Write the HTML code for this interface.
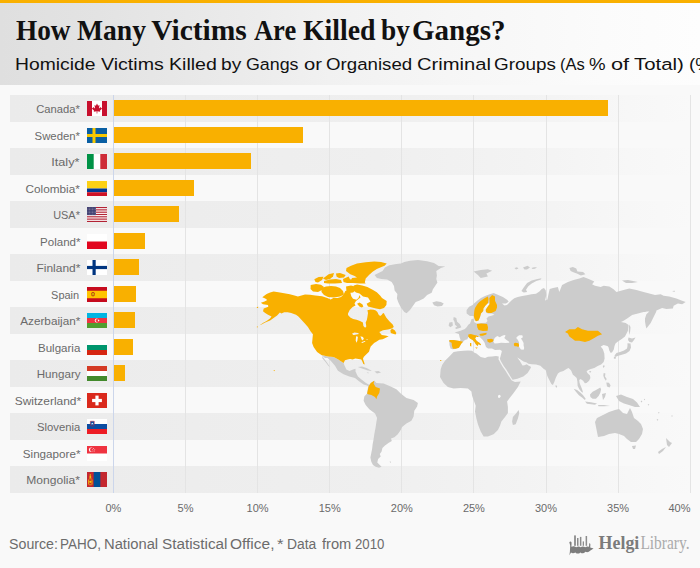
<!DOCTYPE html>
<html><head><meta charset="utf-8"><style>
*{margin:0;padding:0;box-sizing:border-box}
html,body{width:700px;height:568px;overflow:hidden;background:#f9f9f9;font-family:"Liberation Sans",sans-serif}
#top{position:absolute;left:0;top:0;width:700px;height:3px;background:#f9b000}
#hdr{position:absolute;left:0;top:3px;width:700px;height:82px;background:linear-gradient(to right,#dfdfdf 0%,#e3e3e3 14%,#ececec 37%,#f1f1f1 47%,#f6f6f6 64%,#fbfbfb 86%,#fdfdfd 100%)}
.tw{position:absolute;top:14px;font-family:"Liberation Serif",serif;font-weight:bold;font-size:29.5px;color:#111;white-space:nowrap;transform-origin:0 0}
.sw{position:absolute;top:54px;font-size:17.4px;color:#111;white-space:nowrap;transform-origin:0 0}
.band{position:absolute;left:10px;width:680px;height:26.5px;background:linear-gradient(to right,#ebebeb 0%,#efefef 54%,#f3f3f3 76%,#f7f7f7 91%,#f9f9f9 100%)}
.grid{position:absolute;top:95.0px;height:397.5px;width:1px;background:#e4e4e4}
.axis{position:absolute;top:95.0px;height:397.5px;width:1px;background:#ccd6eb}
.lbl{position:absolute;width:60px;text-align:right;font-size:11px;color:#6a6a6a;white-space:nowrap;line-height:13px}
.lbl span{display:inline-block;transform-origin:right center}
.flag{position:absolute;left:87px}
.bar{position:absolute;left:113.70px;height:16px;background:#f9b000}
.xl{position:absolute;top:502.2px;width:40px;text-align:center;font-size:11px;color:#6a6a6a;line-height:13px}
.srw{position:absolute;top:535.5px;font-size:14px;color:#6c6c6c;white-space:nowrap;transform-origin:0 0}
#map{position:absolute;left:0;top:0}
</style></head><body>
<div id="top"></div>
<div id="hdr"></div>
<span class="tw" style="left:15.50px;transform:scaleX(0.924)">How</span><span class="tw" style="left:77.00px;transform:scaleX(0.936)">Many</span><span class="tw" style="left:151.25px;transform:scaleX(1.000)">Victims</span><span class="tw" style="left:253.75px;transform:scaleX(0.897)">Are</span><span class="tw" style="left:302.50px;transform:scaleX(0.942)">Killed</span><span class="tw" style="left:381.25px;transform:scaleX(0.927)">by</span><span class="tw" style="left:411.52px;transform:scaleX(0.984)">Gangs?</span>
<span class="sw" style="left:15.14px;transform:scaleX(1.109)">Homicide</span><span class="sw" style="left:100.50px;transform:scaleX(1.127)">Victims</span><span class="sw" style="left:168.88px;transform:scaleX(1.125)">Killed</span><span class="sw" style="left:221.40px;transform:scaleX(1.103)">by</span><span class="sw" style="left:246.47px;transform:scaleX(1.025)">Gangs</span><span class="sw" style="left:303.84px;transform:scaleX(1.161)">or</span><span class="sw" style="left:326.43px;transform:scaleX(1.074)">Organised</span><span class="sw" style="left:416.84px;transform:scaleX(1.161)">Criminal</span><span class="sw" style="left:494.42px;transform:scaleX(1.085)">Groups</span><span class="sw" style="left:560.30px;transform:scaleX(0.950)">(As</span><span class="sw" style="left:588.93px;transform:scaleX(1.071)">%</span><span class="sw" style="left:611.25px;transform:scaleX(1.250)">of</span><span class="sw" style="left:633.75px;transform:scaleX(1.173)">Total)</span><span class="sw" style="left:688.71px;transform:scaleX(1.088)">(%)</span>
<div class="band" style="top:95.00px"></div>
<div class="band" style="top:148.00px"></div>
<div class="band" style="top:201.00px"></div>
<div class="band" style="top:254.00px"></div>
<div class="band" style="top:307.00px"></div>
<div class="band" style="top:360.00px"></div>
<div class="band" style="top:413.00px"></div>
<div class="band" style="top:466.00px"></div>
<div class="grid" style="left:185.00px"></div>
<div class="grid" style="left:257.10px"></div>
<div class="grid" style="left:329.20px"></div>
<div class="grid" style="left:401.30px"></div>
<div class="grid" style="left:473.40px"></div>
<div class="grid" style="left:545.50px"></div>
<div class="grid" style="left:617.60px"></div>
<div class="grid" style="left:689.70px"></div>
<div class="axis" style="left:112.90px"></div>
<div class="lbl" style="top:103.00px;left:19.40px"><span style="transform:scaleX(1.019)">Canada*</span></div>
<svg class="flag" style="top:101.00px" width="20" height="15" viewBox="0 0 20 15"><rect width="20" height="15" fill="#fff"/><rect width="5" height="15" fill="#c8102e"/><rect x="15" width="5" height="15" fill="#c8102e"/><path d="M10 2.6 L11.1 4.8 L12.5 4.1 L12 7.4 L13.9 5.9 L14.2 7.1 L15.2 7.4 L12.9 9.7 L13.3 10.7 L10.35 10.3 L10.35 12.6 L9.65 12.6 L9.65 10.3 L6.7 10.7 L7.1 9.7 L4.8 7.4 L5.8 7.1 L6.1 5.9 L8 7.4 L7.5 4.1 L8.9 4.8 Z" fill="#c8102e"/></svg>
<div class="bar" style="top:100.00px;width:494.50px"></div>
<div class="lbl" style="top:129.50px;left:20.20px"><span style="transform:scaleX(1.032)">Sweden*</span></div>
<svg class="flag" style="top:127.50px" width="20" height="15" viewBox="0 0 20 15"><rect width="20" height="15" fill="#0a5fa3"/><rect x="5.5" width="3" height="15" fill="#f7c800"/><rect y="6" width="20" height="3" fill="#f7c800"/></svg>
<div class="bar" style="top:126.50px;width:189.70px"></div>
<div class="lbl" style="top:156.00px;left:19.80px"><span style="transform:scaleX(1.155)">Italy*</span></div>
<svg class="flag" style="top:154.00px" width="20" height="15" viewBox="0 0 20 15"><rect width="20" height="15" fill="#fff"/><rect width="6.7" height="15" fill="#009246"/><rect x="13.3" width="6.7" height="15" fill="#ce2b37"/></svg>
<div class="bar" style="top:153.00px;width:137.50px"></div>
<div class="lbl" style="top:182.50px;left:19.80px"><span style="transform:scaleX(1.069)">Colombia*</span></div>
<svg class="flag" style="top:180.50px" width="20" height="15" viewBox="0 0 20 15"><rect width="20" height="7.5" fill="#fcd116"/><rect y="7.5" width="20" height="3.75" fill="#003893"/><rect y="11.25" width="20" height="3.75" fill="#ce1126"/></svg>
<div class="bar" style="top:179.50px;width:80.30px"></div>
<div class="lbl" style="top:209.00px;left:20.20px"><span style="transform:scaleX(0.993)">USA*</span></div>
<svg class="flag" style="top:207.00px" width="20" height="15" viewBox="0 0 20 15"><rect width="20" height="15" fill="#fff"/><rect y="0.00" width="20" height="1.15" fill="#b22234"/><rect y="2.31" width="20" height="1.15" fill="#b22234"/><rect y="4.62" width="20" height="1.15" fill="#b22234"/><rect y="6.92" width="20" height="1.15" fill="#b22234"/><rect y="9.23" width="20" height="1.15" fill="#b22234"/><rect y="11.54" width="20" height="1.15" fill="#b22234"/><rect y="13.85" width="20" height="1.15" fill="#b22234"/><rect width="9" height="8.1" fill="#3c3b6e"/><circle cx="1.0" cy="1.0" r="0.35" fill="#fff"/><circle cx="1.0" cy="2.5" r="0.35" fill="#fff"/><circle cx="1.0" cy="4.0" r="0.35" fill="#fff"/><circle cx="1.0" cy="5.5" r="0.35" fill="#fff"/><circle cx="1.0" cy="7.0" r="0.35" fill="#fff"/><circle cx="2.5" cy="1.0" r="0.35" fill="#fff"/><circle cx="2.5" cy="2.5" r="0.35" fill="#fff"/><circle cx="2.5" cy="4.0" r="0.35" fill="#fff"/><circle cx="2.5" cy="5.5" r="0.35" fill="#fff"/><circle cx="2.5" cy="7.0" r="0.35" fill="#fff"/><circle cx="4.0" cy="1.0" r="0.35" fill="#fff"/><circle cx="4.0" cy="2.5" r="0.35" fill="#fff"/><circle cx="4.0" cy="4.0" r="0.35" fill="#fff"/><circle cx="4.0" cy="5.5" r="0.35" fill="#fff"/><circle cx="4.0" cy="7.0" r="0.35" fill="#fff"/><circle cx="5.5" cy="1.0" r="0.35" fill="#fff"/><circle cx="5.5" cy="2.5" r="0.35" fill="#fff"/><circle cx="5.5" cy="4.0" r="0.35" fill="#fff"/><circle cx="5.5" cy="5.5" r="0.35" fill="#fff"/><circle cx="5.5" cy="7.0" r="0.35" fill="#fff"/><circle cx="7.0" cy="1.0" r="0.35" fill="#fff"/><circle cx="7.0" cy="2.5" r="0.35" fill="#fff"/><circle cx="7.0" cy="4.0" r="0.35" fill="#fff"/><circle cx="7.0" cy="5.5" r="0.35" fill="#fff"/><circle cx="7.0" cy="7.0" r="0.35" fill="#fff"/><circle cx="8.5" cy="1.0" r="0.35" fill="#fff"/><circle cx="8.5" cy="2.5" r="0.35" fill="#fff"/><circle cx="8.5" cy="4.0" r="0.35" fill="#fff"/><circle cx="8.5" cy="5.5" r="0.35" fill="#fff"/><circle cx="8.5" cy="7.0" r="0.35" fill="#fff"/></svg>
<div class="bar" style="top:206.00px;width:65.50px"></div>
<div class="lbl" style="top:235.50px;left:20.20px"><span style="transform:scaleX(1.049)">Poland*</span></div>
<svg class="flag" style="top:233.50px" width="20" height="15" viewBox="0 0 20 15"><rect width="20" height="15" fill="#fff"/><rect y="7.5" width="20" height="7.5" fill="#e2061f"/></svg>
<div class="bar" style="top:232.50px;width:31.60px"></div>
<div class="lbl" style="top:262.00px;left:20.20px"><span style="transform:scaleX(1.087)">Finland*</span></div>
<svg class="flag" style="top:260.00px" width="20" height="15" viewBox="0 0 20 15"><rect width="20" height="15" fill="#fff"/><rect x="5.5" width="3.2" height="15" fill="#003580"/><rect y="5.9" width="20" height="3.2" fill="#003580"/></svg>
<div class="bar" style="top:259.00px;width:25.60px"></div>
<div class="lbl" style="top:288.50px;left:19.50px"><span style="transform:scaleX(0.996)">Spain</span></div>
<svg class="flag" style="top:286.50px" width="20" height="15" viewBox="0 0 20 15"><rect width="20" height="15" fill="#c60b1e"/><rect y="3.75" width="20" height="7.5" fill="#ffc400"/><rect x="4.5" y="5.2" width="3" height="4" rx="1" fill="#ad1519"/><rect x="5" y="6" width="2" height="2.5" fill="#c8b100"/></svg>
<div class="bar" style="top:285.50px;width:22.60px"></div>
<div class="lbl" style="top:315.00px;left:20.20px"><span style="transform:scaleX(1.067)">Azerbaijan*</span></div>
<svg class="flag" style="top:313.00px" width="20" height="15" viewBox="0 0 20 15"><rect width="20" height="5" fill="#00b5e2"/><rect y="5" width="20" height="5" fill="#ef3340"/><rect y="10" width="20" height="5" fill="#509e2f"/><circle cx="9.7" cy="7.5" r="1.9" fill="#fff"/><circle cx="10.2" cy="7.5" r="1.55" fill="#ef3340"/><circle cx="11.6" cy="7.5" r="0.7" fill="#fff"/></svg>
<div class="bar" style="top:312.00px;width:21.80px"></div>
<div class="lbl" style="top:341.50px;left:20.20px"><span style="transform:scaleX(1.050)">Bulgaria</span></div>
<svg class="flag" style="top:339.50px" width="20" height="15" viewBox="0 0 20 15"><rect width="20" height="5" fill="#fff"/><rect y="5" width="20" height="5" fill="#00966e"/><rect y="10" width="20" height="5" fill="#d62612"/></svg>
<div class="bar" style="top:338.50px;width:19.40px"></div>
<div class="lbl" style="top:368.00px;left:20.20px"><span style="transform:scaleX(1.055)">Hungary</span></div>
<svg class="flag" style="top:366.00px" width="20" height="15" viewBox="0 0 20 15"><rect width="20" height="5" fill="#d43a24"/><rect y="5" width="20" height="5" fill="#fff"/><rect y="10" width="20" height="5" fill="#438a2c"/></svg>
<div class="bar" style="top:365.00px;width:11.60px"></div>
<div class="lbl" style="top:394.50px;left:20.20px"><span style="transform:scaleX(1.087)">Switzerland*</span></div>
<svg class="flag" style="top:392.50px" width="20" height="15" viewBox="0 0 20 15"><rect width="20" height="15" fill="#da291c"/><rect x="8.4" y="2.6" width="3.2" height="9.8" fill="#fff"/><rect x="5.1" y="5.9" width="9.8" height="3.2" fill="#fff"/></svg>
<div class="lbl" style="top:421.00px;left:19.80px"><span style="transform:scaleX(1.024)">Slovenia</span></div>
<svg class="flag" style="top:419.00px" width="20" height="15" viewBox="0 0 20 15"><rect width="20" height="5" fill="#fff"/><rect y="5" width="20" height="5" fill="#0c4da2"/><rect y="10" width="20" height="5" fill="#ed1c24"/><path d="M3.3 2.2 h4 v4.2 q-2 1.6 -4 0 z" fill="#0c4da2" stroke="#ed1c24" stroke-width="0.4"/><path d="M4 5.3 l1.3 -1.6 l1.3 1.6 z" fill="#fff"/></svg>
<div class="lbl" style="top:447.50px;left:20.20px"><span style="transform:scaleX(1.059)">Singapore*</span></div>
<svg class="flag" style="top:445.50px" width="20" height="15" viewBox="0 0 20 15"><rect width="20" height="15" fill="#fff"/><rect width="20" height="7.5" fill="#ef3340"/><circle cx="4.2" cy="3.8" r="2.3" fill="#fff"/><circle cx="5.1" cy="3.8" r="2.1" fill="#ef3340"/><circle cx="6.6" cy="2.5" r="0.45" fill="#fff"/><circle cx="5.5" cy="3.6" r="0.45" fill="#fff"/><circle cx="7.8" cy="3.6" r="0.45" fill="#fff"/><circle cx="6" cy="5" r="0.45" fill="#fff"/><circle cx="7.3" cy="5" r="0.45" fill="#fff"/></svg>
<div class="lbl" style="top:474.00px;left:20.20px"><span style="transform:scaleX(1.096)">Mongolia*</span></div>
<svg class="flag" style="top:472.00px" width="20" height="15" viewBox="0 0 20 15"><rect width="20" height="15" fill="#c4272f"/><rect x="6.67" width="6.67" height="15" fill="#015197"/><g fill="#f9cf02"><circle cx="3.33" cy="3" r="0.8"/><circle cx="3.33" cy="5" r="1"/><rect x="2.1" y="6.5" width="2.5" height="0.7"/><rect x="1.3" y="7.5" width="0.8" height="5"/><rect x="4.6" y="7.5" width="0.8" height="5"/><circle cx="3.33" cy="9.8" r="1.1"/><rect x="2.1" y="12.5" width="2.5" height="0.7"/></g></svg>
<div class="xl" style="left:93.40px">0%</div>
<div class="xl" style="left:165.50px">5%</div>
<div class="xl" style="left:237.60px">10%</div>
<div class="xl" style="left:309.70px">15%</div>
<div class="xl" style="left:381.80px">20%</div>
<div class="xl" style="left:453.90px">25%</div>
<div class="xl" style="left:526.00px">30%</div>
<div class="xl" style="left:598.10px">35%</div>
<div class="xl" style="left:650.50px;text-align:right">40%</div>
<svg id="map" width="700" height="568" viewBox="0 0 700 568" style="position:absolute;left:0;top:0">
<path d="M404.3 261.9 L410.0 260.7 L418.0 260.1 L427.1 261.3 L434.0 263.0 L438.6 265.9 L445.4 266.4 L440.9 268.1 L436.3 271.0 L436.9 275.6 L436.3 279.0 L437.4 282.4 L435.1 285.9 L432.9 289.3 L431.7 292.7 L427.1 295.0 L423.7 298.4 L419.1 300.7 L415.7 301.9 L413.4 305.3 L410.0 309.9 L406.6 313.3 L404.3 312.1 L400.9 307.6 L398.6 303.0 L396.9 298.4 L397.4 293.9 L394.6 290.4 L394.0 285.9 L391.7 281.9 L387.1 279.6 L381.4 279.0 L376.9 277.9 L374.6 275.0 L378.0 273.3 L382.6 271.0 L384.9 267.6 L389.4 265.3 L396.3 264.1 L400.9 263.6 Z" fill="#cccccc" fill-rule="evenodd"/>
<path d="M432.3 302.4 L436.3 301.3 L440.9 301.9 L443.7 303.6 L442.0 305.9 L437.4 306.4 L434.0 305.3 Z" fill="#cccccc" fill-rule="evenodd"/>
<path d="M321.4 355.0 L327.9 356.4 L333.6 357.1 L337.9 359.3 L340.5 361.0 L343.6 362.9 L344.5 365.5 L346.4 369.5 L349.5 371.0 L353.0 369.6 L355.5 368.8 L355.5 371.5 L357.9 376.5 L362.1 380.0 L366.0 383.0 L369.5 385.0 L371.5 386.5 L369.0 387.0 L367.1 385.5 L363.6 384.5 L359.3 381.5 L355.0 378.0 L349.3 376.4 L343.6 374.3 L337.9 370.7 L335.0 365.7 L330.5 360.5 L327.5 358.0 L325.0 358.0 Z" fill="#cccccc" fill-rule="evenodd"/>
<path d="M322.1 355.7 L324.0 358.5 L327.0 362.5 L330.0 367.1 L328.5 366.0 L325.5 362.0 L322.5 358.5 Z" fill="#cccccc" fill-rule="evenodd"/>
<path d="M357.9 367.1 L362.0 366.5 L366.5 368.0 L372.1 371.0 L368.0 370.5 L362.0 368.5 Z" fill="#cccccc" fill-rule="evenodd"/>
<path d="M374.5 371.5 L378.5 371.0 L381.0 372.5 L377.0 373.5 Z" fill="#cccccc" fill-rule="evenodd"/>
<path d="M366.5 372.6 L368.6 372.4 L368.4 373.5 Z" fill="#cccccc" fill-rule="evenodd"/>
<path d="M364.3 396.4 L367.1 393.6 L367.9 388.0 L369.5 384.5 L372.5 381.8 L374.3 380.7 L376.4 382.9 L383.6 383.6 L390.7 386.4 L396.4 389.3 L400.7 393.6 L406.4 397.9 L413.6 400.0 L417.9 402.9 L417.1 406.4 L414.3 410.7 L413.6 416.4 L411.4 420.7 L406.4 423.6 L402.1 427.1 L400.7 430.0 L397.8 434.3 L394.4 437.3 L391.0 438.6 L391.8 441.1 L388.4 442.9 L385.0 445.4 L382.4 448.0 L381.6 451.4 L379.8 454.0 L380.7 456.6 L378.1 459.1 L377.3 462.6 L379.0 464.3 L381.6 466.8 L379.0 467.7 L375.6 466.8 L373.0 465.1 L371.3 461.7 L370.4 457.4 L371.3 453.1 L372.1 448.9 L372.6 444.6 L373.4 440.3 L374.3 434.3 L375.5 428.0 L376.4 422.0 L377.1 417.9 L375.0 413.6 L369.3 409.3 L365.7 405.0 L363.6 400.7 Z" fill="#cccccc" fill-rule="evenodd"/>
<path d="M389.5 461.8 L391.0 461.6 L390.8 462.9 Z" fill="#cccccc" fill-rule="evenodd"/>
<path d="M455.4 349.0 L452.5 349.2 L450.5 348.5 L449.5 345.0 L449.3 341.5 L449.4 340.1 L453.7 340.1 L459.7 341.0 L460.6 340.1 L459.7 337.6 L458.9 334.1 L454.6 332.4 L458.0 331.6 L460.6 330.7 L464.9 329.0 L466.6 327.3 L468.3 324.7 L470.0 323.5 L471.0 321.0 L471.5 319.0 L473.5 318.7 L474.3 320.5 L474.0 322.1 L476.5 323.5 L478.5 323.5 L482.0 323.0 L486.0 322.8 L487.5 321.0 L486.5 318.5 L488.5 316.5 L491.5 315.8 L494.5 314.8 L492.0 313.6 L488.0 313.6 L486.0 312.5 L485.7 309.7 L487.8 306.5 L489.7 304.0 L488.0 302.9 L485.5 305.5 L483.4 308.6 L483.2 311.0 L481.0 313.5 L480.0 317.0 L478.5 320.5 L476.0 321.3 L474.7 319.6 L473.8 316.1 L470.0 316.1 L466.6 313.6 L466.6 310.1 L469.1 306.7 L472.6 305.0 L474.0 303.5 L477.5 300.5 L481.0 298.0 L485.0 296.0 L489.0 294.5 L493.7 293.1 L498.3 294.9 L502.9 297.1 L507.4 300.0 L508.6 301.7 L506.0 303.5 L502.0 303.5 L504.5 305.5 L507.0 305.0 L509.7 302.3 L512.0 300.0 L514.3 298.3 L517.7 297.1 L522.3 296.0 L528.0 294.9 L531.4 294.3 L536.0 293.7 L539.4 291.4 L541.7 289.1 L544.0 288.0 L545.7 290.3 L546.3 294.9 L545.1 300.6 L547.4 299.4 L548.6 293.7 L549.7 289.1 L553.1 288.0 L557.9 287.1 L559.3 292.1 L562.1 285.0 L567.9 282.1 L573.6 280.0 L579.3 278.6 L583.6 277.1 L589.3 279.3 L594.3 281.4 L592.1 284.3 L595.0 285.7 L600.7 287.1 L603.6 285.7 L609.3 286.4 L613.6 289.3 L616.4 292.1 L623.6 290.0 L629.3 288.6 L636.4 290.0 L643.6 292.1 L649.3 293.6 L655.0 295.0 L660.7 294.3 L663.6 295.7 L669.3 296.4 L676.4 298.6 L682.1 300.7 L685.7 302.1 L682.1 304.3 L677.9 303.6 L673.6 305.7 L672.9 308.6 L666.4 309.0 L662.1 307.9 L656.4 310.5 L656.2 311.8 L653.6 317.1 L650.7 322.9 L646.4 328.6 L645.7 325.7 L645.0 321.4 L645.0 318.6 L646.4 314.3 L649.3 311.6 L647.0 311.6 L645.0 312.0 L643.6 312.1 L637.9 313.6 L632.1 315.0 L627.9 317.9 L623.6 320.7 L621.0 322.1 L625.7 322.9 L628.6 325.0 L627.9 330.7 L625.0 336.4 L621.4 339.3 L617.9 341.4 L615.5 343.5 L614.5 346.0 L613.8 349.5 L612.0 352.5 L610.5 352.8 L609.3 350.5 L608.6 347.5 L607.8 346.2 L606.4 345.7 L603.6 345.0 L600.7 346.4 L602.9 349.3 L604.3 353.6 L604.6 358.4 L603.7 361.9 L601.1 364.4 L597.7 366.1 L594.3 367.9 L590.8 369.1 L588.3 370.0 L586.6 371.3 L587.4 373.0 L590.0 375.6 L590.4 378.1 L589.1 380.7 L586.6 382.9 L584.9 383.3 L583.1 380.7 L580.6 379.0 L579.2 380.0 L579.6 383.0 L580.8 386.0 L582.2 389.5 L583.1 392.7 L581.4 391.8 L579.3 389.3 L577.6 385.8 L577.4 381.6 L576.7 378.1 L574.6 376.0 L572.9 374.7 L571.1 370.4 L568.6 367.9 L566.9 368.7 L563.4 370.9 L560.0 372.1 L557.9 373.6 L555.7 377.9 L554.3 382.1 L552.9 385.0 L551.4 384.0 L549.8 381.1 L547.3 376.0 L546.4 372.6 L545.6 370.0 L543.8 369.1 L540.4 365.7 L536.1 364.4 L531.8 364.2 L528.4 363.8 L526.7 362.5 L523.5 361.5 L520.5 359.5 L517.3 357.6 L519.5 360.5 L521.0 363.0 L522.5 365.5 L524.5 365.2 L526.7 364.3 L528.4 365.5 L530.5 366.5 L531.0 367.6 L530.1 369.1 L527.6 373.0 L523.3 376.5 L517.3 378.8 L512.6 379.8 L510.9 377.2 L508.9 373.8 L506.3 369.6 L503.9 366.2 L501.4 362.0 L499.8 358.8 L500.5 356.5 L501.0 354.6 L501.9 351.0 L500.0 349.8 L495.0 350.0 L492.0 348.5 L490.0 348.5 L488.0 348.5 L486.0 347.0 L485.4 345.3 L484.6 342.7 L482.8 340.1 L480.3 337.6 L477.7 335.8 L476.0 337.1 L475.1 338.4 L476.8 341.0 L479.4 342.7 L481.1 344.4 L480.3 345.3 L478.6 344.0 L477.7 346.1 L476.0 344.4 L474.3 341.8 L472.6 340.1 L470.0 338.4 L468.3 336.7 L467.4 339.3 L464.9 340.1 L463.1 341.8 L461.4 343.6 L460.1 345.7 L458.9 347.8 Z M494.6 337.9 L497.2 335.9 L499.8 337.2 L501.7 335.9 L504.3 335.0 L505.6 335.6 L504.3 337.9 L506.2 339.8 L508.8 341.4 L509.4 342.7 L505.6 343.0 L501.1 342.7 L497.9 343.3 L494.6 343.6 L493.4 341.7 L494.0 339.8 Z M516.5 337.2 L519.1 335.3 L522.3 335.3 L522.9 337.2 L521.0 338.5 L522.3 340.4 L523.6 343.0 L523.6 345.6 L524.2 348.1 L523.6 349.7 L521.0 349.4 L519.1 346.9 L518.7 344.9 L519.1 342.4 L517.8 339.8 L516.5 338.5 Z" fill="#cccccc" fill-rule="evenodd"/>
<path d="M453.7 317.0 L456.3 317.9 L457.1 321.7 L459.7 323.9 L461.4 327.3 L459.7 328.1 L456.3 329.0 L455.0 328.1 L457.1 326.4 L455.0 324.7 L454.6 322.1 L453.3 319.6 Z" fill="#cccccc" fill-rule="evenodd"/>
<path d="M449.4 322.6 L452.4 322.1 L452.9 325.6 L450.3 327.3 L448.6 325.6 Z" fill="#cccccc" fill-rule="evenodd"/>
<path d="M473.6 271.4 L480.7 270.0 L487.9 269.3 L492.1 270.7 L486.4 273.6 L487.9 276.4 L480.7 277.9 L477.9 275.0 Z" fill="#cccccc" fill-rule="evenodd"/>
<path d="M514.5 268.0 L517.0 267.2 L518.5 268.6 L516.0 269.5 Z" fill="#cccccc" fill-rule="evenodd"/>
<path d="M523.0 267.5 L527.5 265.8 L530.0 267.5 L527.0 269.4 L524.5 269.4 Z" fill="#cccccc" fill-rule="evenodd"/>
<path d="M531.5 268.0 L534.0 267.2 L537.0 267.3 L535.0 268.8 L532.5 269.0 Z" fill="#cccccc" fill-rule="evenodd"/>
<path d="M521.4 290.9 L523.7 287.4 L527.1 282.9 L531.7 280.6 L537.4 278.9 L541.4 278.3 L540.9 279.4 L536.3 281.1 L531.7 283.4 L528.3 286.3 L526.0 289.7 L527.1 292.0 L523.7 292.6 Z" fill="#cccccc" fill-rule="evenodd"/>
<path d="M569.4 268.0 L572.9 266.9 L576.3 268.6 L577.4 271.4 L583.1 272.0 L585.4 274.3 L580.9 275.4 L577.4 273.7 L574.0 272.6 L570.6 270.9 Z" fill="#cccccc" fill-rule="evenodd"/>
<path d="M622.0 280.5 L628.0 280.0 L633.0 281.0 L637.9 282.0 L632.0 283.0 L626.0 283.0 Z" fill="#cccccc" fill-rule="evenodd"/>
<path d="M672.0 291.0 L675.0 290.8 L674.5 292.0 Z" fill="#cccccc" fill-rule="evenodd"/>
<path d="M629.0 324.5 L630.5 327.0 L630.2 331.0 L629.6 335.0 L628.8 331.0 Z" fill="#cccccc" fill-rule="evenodd"/>
<path d="M628.5 337.5 L632.0 338.5 L635.5 337.5 L634.0 340.0 L632.0 342.5 L629.5 342.0 L628.0 340.0 Z" fill="#cccccc" fill-rule="evenodd"/>
<path d="M627.5 343.2 L630.5 343.5 L631.0 347.5 L629.5 351.0 L626.0 353.5 L621.0 355.0 L617.5 356.0 L615.5 357.0 L614.5 355.5 L616.5 353.0 L620.0 352.0 L624.0 350.5 L627.0 348.5 L627.5 346.0 Z" fill="#cccccc" fill-rule="evenodd"/>
<path d="M614.0 356.5 L616.0 357.0 L615.5 359.0 L613.8 358.5 Z" fill="#cccccc" fill-rule="evenodd"/>
<path d="M602.8 366.1 L604.1 364.9 L604.6 366.6 L603.3 367.9 Z" fill="#cccccc" fill-rule="evenodd"/>
<path d="M603.7 373.0 L605.4 373.4 L605.0 376.4 L606.7 379.0 L605.8 380.7 L604.1 378.1 L603.3 375.6 Z" fill="#cccccc" fill-rule="evenodd"/>
<path d="M606.3 382.4 L609.0 382.8 L610.6 385.5 L609.5 387.6 L607.0 386.5 Z" fill="#cccccc" fill-rule="evenodd"/>
<path d="M589.1 371.3 L591.3 370.9 L590.8 372.6 L589.6 372.6 Z" fill="#cccccc" fill-rule="evenodd"/>
<path d="M555.7 385.0 L557.1 386.0 L556.8 387.8 L555.6 387.0 Z" fill="#cccccc" fill-rule="evenodd"/>
<path d="M573.7 388.8 L577.1 390.1 L580.6 392.7 L583.1 395.3 L585.7 398.7 L584.9 400.0 L582.3 397.8 L578.9 395.3 L575.9 391.8 Z" fill="#cccccc" fill-rule="evenodd"/>
<path d="M585.0 401.5 L591.0 402.3 L597.0 403.5 L595.0 404.8 L587.0 403.8 Z" fill="#cccccc" fill-rule="evenodd"/>
<path d="M598.0 405.0 L604.0 405.0 L610.0 406.0 L604.0 406.3 L598.5 406.2 Z" fill="#cccccc" fill-rule="evenodd"/>
<path d="M590.0 394.4 L592.6 391.8 L596.0 390.1 L598.6 388.4 L600.3 387.6 L601.1 389.3 L600.3 392.7 L598.6 396.1 L596.0 398.7 L592.6 398.7 L590.4 397.0 Z" fill="#cccccc" fill-rule="evenodd"/>
<path d="M602.0 394.0 L606.0 393.0 L605.0 397.0 L603.0 400.0 Z" fill="#cccccc" fill-rule="evenodd"/>
<path d="M616.0 396.0 L621.0 394.5 L627.0 397.0 L633.0 399.0 L637.0 402.5 L640.0 407.0 L635.0 407.0 L629.0 405.0 L624.0 403.5 L619.0 401.0 Z" fill="#cccccc" fill-rule="evenodd"/>
<path d="M640.6 401.5 L641.5 400.6 L642.4 401.5 L641.5 402.4 Z" fill="#cccccc" fill-rule="evenodd"/>
<path d="M647.7 404.8 L648.5 404.0 L649.3 404.8 L648.5 405.6 Z" fill="#cccccc" fill-rule="evenodd"/>
<path d="M658.0 412.8 L658.8 412.0 L659.6 412.8 L658.8 413.6 Z" fill="#cccccc" fill-rule="evenodd"/>
<path d="M656.6 419.8 L657.5 418.9 L658.4 419.8 L657.5 420.7 Z" fill="#cccccc" fill-rule="evenodd"/>
<path d="M671.2 416.0 L672.0 415.2 L672.8 416.0 L672.0 416.8 Z" fill="#cccccc" fill-rule="evenodd"/>
<path d="M643.8 399.5 L644.5 398.8 L645.2 399.5 L644.5 400.2 Z" fill="#cccccc" fill-rule="evenodd"/>
<path d="M595.0 422.0 L597.0 418.0 L603.0 415.0 L609.0 412.0 L615.0 410.0 L619.0 409.0 L623.0 413.0 L627.0 414.0 L629.0 410.0 L630.0 408.0 L632.0 412.0 L634.0 418.0 L638.0 421.0 L641.0 424.0 L643.0 429.0 L642.0 434.0 L639.0 439.0 L636.0 442.0 L631.0 442.0 L627.0 439.0 L624.0 436.0 L619.0 434.0 L615.0 433.0 L609.0 434.0 L604.0 436.0 L598.0 437.0 L597.0 432.0 L596.0 427.0 Z" fill="#cccccc" fill-rule="evenodd"/>
<path d="M632.0 446.0 L636.0 445.6 L635.0 449.0 L633.0 449.0 Z" fill="#cccccc" fill-rule="evenodd"/>
<path d="M666.0 438.0 L670.0 442.0 L672.0 443.0 L669.0 447.0 L667.0 445.0 Z" fill="#cccccc" fill-rule="evenodd"/>
<path d="M666.0 447.0 L663.0 451.0 L659.0 454.0 L658.0 452.0 L662.0 449.0 Z" fill="#cccccc" fill-rule="evenodd"/>
<path d="M453.6 352.1 L458.0 351.2 L463.6 350.7 L468.0 350.5 L472.1 350.7 L474.0 352.5 L476.4 353.6 L480.7 357.1 L485.0 357.9 L488.0 356.8 L492.1 356.4 L496.0 356.0 L498.8 356.5 L498.5 359.2 L500.2 362.6 L502.8 367.0 L505.3 370.4 L507.9 374.7 L510.1 378.1 L511.8 380.5 L515.0 382.1 L520.7 381.4 L517.9 387.1 L513.6 392.9 L509.3 398.6 L507.1 401.4 L507.9 407.1 L507.9 412.9 L505.0 417.1 L501.4 421.4 L500.0 425.7 L497.9 430.0 L493.6 434.3 L487.9 436.4 L483.6 436.4 L480.7 431.4 L477.9 424.3 L476.4 418.6 L475.0 411.4 L475.7 405.7 L473.6 400.0 L472.1 395.7 L471.4 391.4 L467.9 388.6 L460.7 387.9 L453.6 388.6 L447.9 387.1 L443.6 382.9 L440.0 377.1 L440.7 369.3 L442.1 365.0 L445.0 360.7 L449.3 356.4 Z M498.0 395.5 L500.0 394.8 L500.8 396.5 L499.5 398.0 L498.0 397.5 Z" fill="#cccccc" fill-rule="evenodd"/>
<path d="M512.9 417.1 L516.4 412.9 L518.6 410.0 L519.3 412.9 L517.9 418.6 L515.7 424.3 L512.9 425.0 L512.1 421.4 Z" fill="#cccccc" fill-rule="evenodd"/>
<path d="M259.5 325.3 L263.7 322.6 L266.6 321.0 L270.0 318.5 L271.5 316.5 L268.0 314.8 L265.2 313.0 L263.0 311.2 L263.7 308.4 L268.3 306.7 L268.0 304.9 L263.0 304.2 L260.9 302.8 L264.5 301.4 L267.3 300.0 L265.2 298.6 L262.3 297.2 L266.6 294.0 L270.1 292.6 L273.6 291.5 L278.5 292.2 L284.2 293.3 L289.8 294.3 L294.5 295.5 L297.9 296.4 L305.0 294.5 L310.0 294.8 L315.3 295.4 L322.1 296.3 L327.3 298.0 L330.7 299.5 L333.3 298.0 L337.6 298.0 L341.0 297.1 L343.6 294.6 L345.3 291.1 L347.8 290.3 L350.4 292.8 L351.3 296.3 L353.0 298.8 L356.4 299.7 L358.5 298.0 L359.5 295.0 L360.5 297.5 L356.0 301.0 L354.5 303.5 L355.5 305.5 L352.6 307.1 L349.7 310.0 L348.0 313.4 L348.0 315.1 L350.3 317.4 L353.1 319.1 L356.6 319.7 L360.0 320.9 L362.9 322.6 L363.4 326.0 L365.1 327.7 L366.3 326.6 L365.7 322.6 L366.9 319.7 L367.4 316.9 L368.0 312.9 L367.4 310.2 L370.6 309.6 L373.7 309.8 L375.8 310.6 L377.4 311.9 L378.5 314.5 L380.1 316.1 L381.6 315.1 L382.7 313.5 L383.8 313.0 L384.8 315.1 L386.4 317.7 L389.6 321.4 L392.7 324.6 L393.8 326.9 L391.7 328.6 L388.0 329.4 L383.0 330.3 L379.3 332.0 L381.8 335.0 L385.3 335.6 L388.7 336.3 L385.3 338.0 L382.7 339.3 L379.3 339.7 L376.7 341.4 L374.1 343.1 L370.7 346.6 L369.8 349.1 L369.0 351.7 L366.4 354.3 L363.9 356.8 L363.0 358.6 L363.4 360.3 L364.3 362.8 L364.7 364.6 L363.4 364.1 L362.1 361.1 L361.3 359.4 L358.7 359.0 L355.3 358.6 L352.7 359.4 L350.1 359.0 L347.6 359.4 L345.0 360.3 L343.6 362.9 L340.5 361.0 L337.9 359.3 L333.6 357.1 L327.9 356.4 L321.4 355.0 L317.1 352.1 L313.6 347.1 L312.1 342.9 L312.9 334.3 L310.7 331.4 L307.9 327.1 L305.3 324.0 L303.0 321.6 L298.4 316.4 L296.0 314.8 L291.2 313.0 L287.7 312.3 L284.2 312.3 L281.4 313.4 L279.9 312.6 L277.1 315.5 L274.3 317.6 L270.1 320.4 L265.2 322.5 L261.5 324.5 Z M351.9 333.7 L354.4 332.4 L357.9 332.9 L359.1 334.1 L356.1 334.6 L353.6 335.0 Z M356.1 336.3 L357.9 336.7 L357.4 340.6 L356.6 342.7 L355.7 340.6 Z M360.4 336.3 L363.0 337.1 L363.9 338.9 L362.1 340.6 L361.3 338.4 Z M361.3 342.3 L364.7 341.0 L365.6 341.4 L362.1 343.1 Z M365.6 339.7 L368.1 339.3 L367.3 340.1 Z" fill="#f9b000" fill-rule="evenodd"/>
<path d="M390.4 330.3 L392.1 328.6 L394.7 330.3 L396.4 332.9 L395.6 334.6 L393.0 333.7 L390.8 332.9 Z" fill="#f9b000" fill-rule="evenodd"/>
<path d="M310.7 285.0 L316.0 284.0 L321.0 284.8 L324.0 287.0 L322.0 290.0 L318.0 292.0 L313.0 291.5 L310.5 289.0 Z" fill="#f9b000" fill-rule="evenodd"/>
<path d="M321.5 288.0 L326.0 286.5 L331.0 286.0 L336.0 286.5 L340.0 288.0 L343.0 291.0 L344.0 294.5 L340.0 296.5 L334.0 297.5 L328.0 297.0 L324.0 295.0 L321.5 292.0 Z" fill="#f9b000" fill-rule="evenodd"/>
<path d="M346.0 286.5 L351.0 285.5 L355.0 286.5 L356.0 290.0 L353.0 292.5 L349.0 293.0 L346.5 291.0 Z" fill="#f9b000" fill-rule="evenodd"/>
<path d="M314.3 279.3 L318.6 277.1 L323.5 276.8 L322.0 280.0 L318.0 282.5 L315.5 282.0 Z" fill="#f9b000" fill-rule="evenodd"/>
<path d="M323.0 278.5 L328.6 274.3 L334.0 273.0 L333.0 276.5 L330.0 279.0 L326.0 280.0 Z" fill="#f9b000" fill-rule="evenodd"/>
<path d="M336.0 273.5 L340.0 272.9 L345.7 275.0 L344.0 277.5 L339.0 278.0 L336.5 276.5 Z" fill="#f9b000" fill-rule="evenodd"/>
<path d="M324.0 281.0 L330.0 279.5 L336.0 279.0 L341.0 280.0 L342.0 283.0 L335.0 283.4 L328.0 283.4 L324.0 283.0 Z" fill="#f9b000" fill-rule="evenodd"/>
<path d="M343.0 279.0 L348.6 276.4 L350.0 279.3 L357.1 280.7 L364.3 281.4 L365.7 283.6 L360.0 283.6 L352.9 283.0 L347.0 283.0 L343.5 282.0 Z" fill="#f9b000" fill-rule="evenodd"/>
<path d="M346.5 268.0 L351.0 265.7 L357.0 263.6 L365.7 262.3 L374.3 261.6 L381.0 261.9 L386.7 263.6 L384.6 265.7 L380.3 267.4 L376.8 269.1 L372.6 271.7 L369.0 275.0 L365.7 278.6 L364.9 282.0 L361.4 282.9 L355.4 282.0 L351.0 280.3 L352.0 278.0 L357.0 277.5 L354.6 276.0 L350.3 274.3 L346.0 271.0 Z" fill="#f9b000" fill-rule="evenodd"/>
<path d="M353.7 285.4 L357.1 284.6 L362.3 285.4 L367.4 287.1 L372.6 289.7 L376.8 292.3 L380.3 295.7 L382.0 298.0 L386.7 301.1 L386.4 305.0 L384.0 308.0 L380.0 309.3 L376.0 308.6 L372.0 307.6 L368.0 306.6 L366.6 303.7 L370.5 301.5 L368.0 297.5 L363.0 296.5 L359.5 293.5 L356.0 292.5 L353.7 290.6 Z" fill="#f9b000" fill-rule="evenodd"/>
<path d="M357.1 303.7 L359.4 302.6 L362.3 304.3 L363.4 306.6 L361.7 307.4 L359.4 306.6 Z" fill="#f9b000" fill-rule="evenodd"/>
<path d="M367.1 393.6 L368.6 386.4 L370.7 382.9 L374.3 380.7 L373.6 383.6 L375.7 387.1 L380.0 388.6 L379.3 392.9 L377.1 396.4 L376.4 399.3 L375.0 397.1 L371.4 395.0 L367.9 394.3 Z" fill="#f9b000" fill-rule="evenodd"/>
<path d="M449.4 340.1 L453.7 340.1 L459.7 341.0 L463.1 341.8 L461.4 343.6 L460.1 345.7 L458.9 347.8 L455.4 348.7 L452.9 348.7 L452.0 346.1 L451.6 342.7 L449.4 341.8 Z" fill="#f9b000" fill-rule="evenodd"/>
<path d="M468.3 334.6 L470.8 334.1 L474.3 335.0 L477.7 335.8 L476.0 337.1 L475.1 338.4 L476.8 341.0 L479.4 342.7 L481.1 344.4 L480.3 345.3 L478.6 344.0 L477.7 346.1 L476.0 344.4 L474.3 341.8 L472.6 340.1 L470.0 338.4 L468.3 336.7 Z" fill="#f9b000" fill-rule="evenodd"/>
<path d="M475.1 347.4 L477.7 347.4 L476.8 348.7 Z" fill="#f9b000" fill-rule="evenodd"/>
<path d="M470.0 343.1 L471.3 343.1 L471.3 346.6 L470.0 346.1 Z" fill="#f9b000" fill-rule="evenodd"/>
<path d="M479.4 334.1 L483.7 333.3 L486.7 332.8 L486.3 334.6 L482.8 335.8 L480.3 335.8 Z" fill="#f9b000" fill-rule="evenodd"/>
<path d="M476.8 336.0 L478.6 335.9 L478.3 337.0 L476.9 337.0 Z" fill="#f9b000" fill-rule="evenodd"/>
<path d="M487.1 339.3 L491.4 338.8 L493.6 339.7 L492.7 341.8 L489.7 342.7 L487.6 341.8 Z" fill="#f9b000" fill-rule="evenodd"/>
<path d="M476.8 323.9 L481.1 323.4 L487.1 323.9 L488.0 327.3 L487.6 330.7 L482.8 331.1 L478.6 329.9 L477.3 327.3 Z" fill="#f9b000" fill-rule="evenodd"/>
<path d="M513.9 343.6 L515.2 342.7 L517.1 343.0 L518.7 343.6 L519.1 345.6 L518.4 346.9 L516.5 346.2 L514.6 346.2 L513.9 344.9 Z" fill="#f9b000" fill-rule="evenodd"/>
<path d="M474.3 310.7 L475.0 307.9 L477.5 304.0 L479.3 302.1 L482.0 300.0 L485.0 297.9 L487.9 296.4 L488.5 299.0 L488.0 302.9 L485.5 305.5 L483.4 308.6 L483.2 311.0 L481.0 313.5 L480.0 317.0 L478.5 320.5 L476.0 321.3 L474.7 319.6 L473.8 316.1 Z" fill="#f9b000" fill-rule="evenodd"/>
<path d="M489.3 297.9 L492.1 295.0 L495.0 296.4 L495.0 300.7 L497.0 305.0 L497.0 307.6 L495.7 311.0 L491.4 313.1 L488.0 313.1 L486.0 312.0 L485.7 309.7 L487.8 306.5 L489.7 304.0 L489.5 301.0 Z" fill="#f9b000" fill-rule="evenodd"/>
<path d="M565.0 332.1 L569.3 329.3 L575.0 329.3 L577.9 327.1 L582.1 329.3 L587.9 330.7 L592.9 330.7 L597.9 330.7 L602.1 334.3 L597.9 335.7 L594.3 337.9 L589.3 340.7 L585.0 342.1 L579.3 340.7 L575.0 340.7 L572.1 338.6 L569.3 336.4 L567.9 333.6 Z" fill="#f9b000" fill-rule="evenodd"/>
<path d="M440.2 360.0 L441.4 360.0 L441.2 361.0 L440.2 361.0 Z" fill="#f9b000" fill-rule="evenodd"/>
<path d="M273.4 370.0 L274.8 370.0 L274.4 371.3 Z" fill="#f9b000" fill-rule="evenodd"/>
<path d="M256.8 307.0 L258.3 306.8 L258.0 308.0 L256.9 307.9 Z" fill="#f9b000" fill-rule="evenodd"/>
<path d="M256.5 327.0 L258.0 326.3 L257.8 327.4 Z" fill="#f9b000" fill-rule="evenodd"/>
</svg>
<span class="srw" style="left:8.78px;transform:scaleX(1.015)">Source:</span><span class="srw" style="left:59.74px;transform:scaleX(0.963)">PAHO,</span><span class="srw" style="left:103.75px;transform:scaleX(1.054)">National</span><span class="srw" style="left:161.51px;transform:scaleX(1.093)">Statistical</span><span class="srw" style="left:230.09px;transform:scaleX(1.105)">Office,</span><span class="srw" style="left:277.00px;transform:scaleX(1.200)">*</span><span class="srw" style="left:287.01px;transform:scaleX(0.990)">Data</span><span class="srw" style="left:322.30px;transform:scaleX(1.048)">from</span><span class="srw" style="left:354.86px;transform:scaleX(0.943)">2010</span>
<svg id="logo" style="position:absolute;left:565px;top:530px" width="135" height="30" viewBox="0 0 135 30">
<g fill="#8c8c8c"><rect x="9.1" y="5.4" width="1.8" height="10.4"/><rect x="12" y="8" width="1.5" height="7.8"/><rect x="14.9" y="6.9" width="1.5" height="8.9"/><rect x="17.7" y="11.4" width="1.3" height="4.4"/><rect x="20.6" y="6" width="1.5" height="9.8"/></g>
<path d="M4.3 12.2 Q5.6 10.6 6.6 12.4 L6.4 16.8 Q9 15.6 11.2 17.2 Q13.4 15.8 15.6 17.2 Q18 15.8 20.2 17.2 Q22.4 15.8 24 16.8 L24.2 13.6 Q24.9 12.4 25.4 14.4 L25.2 17.6 L28.6 18.6 L25.4 20.6 Q23 23.2 20.4 21.8 Q18 24.6 15.4 22.4 Q12.8 24.8 10.4 22.4 Q7.8 24 6 22.4 L4.4 25.2 L4.9 21.6 L5.2 15.4 Z" fill="#7d7d7d"/>
<text x="33.6" y="18.6" font-family="Liberation Serif" font-weight="bold" font-size="18" fill="#7b7b7b" textLength="40.7" lengthAdjust="spacingAndGlyphs">Helgi</text>
<text x="75.4" y="18.6" font-family="Liberation Serif" font-size="18" fill="#ababab" textLength="49.2" lengthAdjust="spacingAndGlyphs">Library.</text>
</svg>
</body></html>
